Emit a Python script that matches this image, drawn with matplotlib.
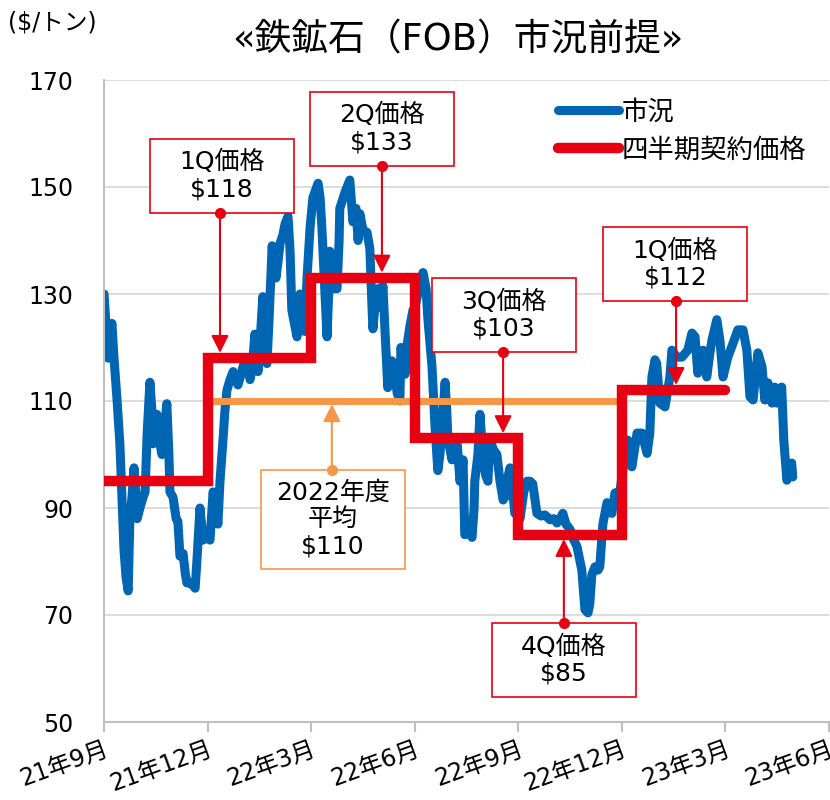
import matplotlib
matplotlib.use("Agg")
import matplotlib.pyplot as plt
from matplotlib.patches import Rectangle

plt.rcParams['font.family'] = ['DejaVu Sans', 'Noto Sans CJK JP']

# Market price (months since 2021-09, $/t)
month_pos = [
    0.00, 0.06, 0.12, 0.17, 0.23, 0.29, 0.38, 0.46, 0.52, 0.58, 0.64, 0.70, 0.75, 0.81, 0.87, 0.93, 0.96,
    1.04, 1.13, 1.19, 1.25, 1.33, 1.39, 1.42, 1.48, 1.53, 1.59, 1.68, 1.77, 1.82, 1.88, 1.91,
    2.00, 2.09, 2.14, 2.20, 2.29, 2.35, 2.40, 2.49, 2.58, 2.64, 2.69, 2.78, 2.84, 2.87, 2.95,
    3.07, 3.13, 3.16, 3.21, 3.30, 3.36, 3.45, 3.50, 3.56, 3.65, 3.74, 3.82, 3.88, 3.97,
    4.05, 4.17, 4.23, 4.29, 4.37, 4.46, 4.52, 4.60, 4.66, 4.72, 4.78, 4.87, 4.92, 4.98,
    5.04, 5.10, 5.18, 5.24, 5.33, 5.39, 5.44, 5.53, 5.59, 5.68, 5.76, 5.82, 5.88, 5.97,
    6.05, 6.20, 6.26, 6.31, 6.40, 6.46, 6.52, 6.54, 6.63, 6.75, 6.81, 6.83, 6.98,
    7.12, 7.21, 7.30, 7.36, 7.41, 7.50, 7.62, 7.70, 7.76, 7.79, 7.88, 7.94, 7.99,
    8.08, 8.14, 8.22, 8.28, 8.34, 8.43, 8.49, 8.57, 8.60, 8.66, 8.72, 8.77, 8.86, 8.95,
    9.01, 9.09, 9.24, 9.33, 9.38, 9.50, 9.59, 9.67, 9.73, 9.79, 9.88, 9.93, 9.96,
    10.02, 10.08, 10.17, 10.22, 10.31, 10.37, 10.40, 10.45, 10.54, 10.66, 10.72, 10.74, 10.83, 10.89, 10.95, 10.98,
    11.06, 11.12, 11.18, 11.27, 11.38, 11.47, 11.56, 11.61, 11.67, 11.76, 11.84, 11.90, 11.96,
    12.05, 12.16, 12.25, 12.34, 12.42, 12.54, 12.66, 12.77, 12.92,
    13.03, 13.12, 13.21, 13.29, 13.38, 13.50, 13.61, 13.70, 13.79, 13.84, 13.93,
    14.02, 14.07, 14.13, 14.22, 14.31, 14.36, 14.45, 14.57, 14.65, 14.71, 14.80, 14.89, 14.94,
    15.09, 15.17, 15.29, 15.44, 15.58, 15.73, 15.81, 15.87, 15.96,
    16.01, 16.10, 16.25, 16.33, 16.39, 16.45, 16.59, 16.74, 16.91,
    17.03, 17.12, 17.20, 17.35, 17.46, 17.55, 17.61, 17.75, 17.84, 17.93,
    18.07, 18.22, 18.36, 18.51, 18.62, 18.71, 18.80, 18.94,
    19.06, 19.14, 19.23, 19.35, 19.43, 19.49, 19.63, 19.69, 19.78, 19.87, 19.92, 19.95,
]
market_price = [
    130, 124, 118, 122, 124.5, 118, 110, 102, 92, 82, 77, 74.5, 88, 92, 97.5, 92, 88,
    90, 92, 93, 104, 113.5, 108, 102, 106, 107.5, 103, 100, 106, 109.5, 100, 93,
    92, 88, 87.5, 81, 81.5, 78, 76, 76, 75.5, 75, 80, 90, 86, 84, 85,
    84, 90, 93, 91, 87, 95, 103, 108, 112, 114, 115.5, 114, 113, 115,
    117, 118, 114, 116, 122.5, 115.5, 121, 129.5, 122, 117, 125, 139, 136, 133,
    136, 139.5, 141, 143, 144.5, 138, 127, 124, 122, 130, 128, 123, 133, 142.5,
    148, 150.7, 148, 142.5, 130, 122, 132, 138, 131, 131, 140, 146, 149,
    151.3, 143.5, 146, 140, 145, 142, 141.5, 138.5, 128, 123.5, 130, 131, 127.5,
    131.5, 123, 112.5, 115, 117.5, 115, 111.5, 110, 120, 118, 115, 120, 124, 127,
    127.5, 130, 134, 131, 125.5, 116.5, 105, 97, 100, 105, 113.5, 108, 103,
    101, 99, 101, 103, 95, 97, 99, 85, 86, 84.5, 90, 95, 100, 107.5, 102, 99,
    96, 95, 103, 101, 100, 95, 91.5, 92, 95, 97.5, 93, 89, 90,
    88, 93, 95, 95, 94.5, 89, 88.5, 88.7, 87.8,
    88, 87.2, 88, 89, 87, 86, 84, 82.8, 80, 78.4, 71,
    70.4, 72, 77.5, 79, 78.4, 79, 87, 91, 90, 89, 92.8, 93, 92.8,
    100, 102.7, 97.7, 104, 104, 100.2, 104, 114.5, 117.7,
    117, 109.6, 108.9, 112, 114.5, 119.5, 118.2, 118.2, 119.5,
    122.7, 122, 115.2, 119.5, 114.5, 119, 121.4, 125.2, 121.4, 114.5,
    118.2, 120.8, 123.3, 123.3, 119.5, 110.8, 110.2, 119,
    116.4, 110.2, 113.4, 109.6, 112.6, 109.6, 112.6, 102.7, 95.2, 97.5, 98.4, 95.8,
]

# Quarterly contract prices
quarter_edges = [0, 3, 6, 9, 12, 15, 18]
quarter_price = [95, 118, 133, 103, 85, 112]

# FY2022 average
avg_price = 110
avg_start, avg_end = 3, 15

x_ticks = [0, 3, 6, 9, 12, 15, 18, 21]
x_labels = ['21年9月', '21年12月', '22年3月', '22年6月', '22年9月', '22年12月', '23年3月', '23年6月']
y_ticks = [50, 70, 90, 110, 130, 150, 170]

BLUE = '#0066B3'
RED = '#E60012'
ORANGE = '#F79646'

fig = plt.figure(figsize=(8.3, 8.0), dpi=100)
ax = fig.add_axes([0.1253, 0.0975, 0.8735, 0.8025])

ax.plot(month_pos, market_price, color=BLUE, lw=6.5, solid_capstyle='round',
        solid_joinstyle='round', zorder=2, label='市況')
ax.hlines(avg_price, avg_start, avg_end, color=ORANGE, lw=5, zorder=3)
step_y = quarter_price + [quarter_price[-1]]
ax.step(quarter_edges, step_y, where='post', color=RED, lw=7.5, solid_capstyle='round',
        solid_joinstyle='miter', zorder=4, label='四半期契約価格')

ax.set_xlim(0, 21)
ax.set_ylim(50, 170)
ax.set_yticks(y_ticks)
ax.set_xticks(x_ticks)
ax.set_xticklabels(x_labels, rotation=20, ha='right', va='top', rotation_mode='anchor', fontsize=17)
ax.tick_params(axis='y', length=0, labelsize=17, pad=22)
ax.tick_params(axis='x', length=7, width=1.5, color='#BFBFBF', pad=4)
ax.yaxis.grid(True, color='#D9D9D9', lw=1.3)
ax.set_axisbelow(True)
for s in ['top', 'right']:
    ax.spines[s].set_visible(False)
for s in ['left', 'bottom']:
    ax.spines[s].set_color('#BFBFBF')
    ax.spines[s].set_linewidth(1.5)

# annotation boxes: (text, box center x, box center y, box h, arrow x, arrow tip y, color)
box_w = 4.17
notes = [
    ('1Q価格\n$118', 3.42, 152.1, 13.8, 3.36, 119.0, RED),
    ('2Q価格\n$133', 8.05, 160.9, 13.8, 8.05, 134.0, RED),
    ('3Q価格\n$103', 11.58, 126.0, 13.8, 11.56, 104.0, RED),
    ('4Q価格\n$85', 13.32, 61.6, 13.8, 13.32, 84.2, RED),
    ('1Q価格\n$112', 16.55, 135.6, 13.8, 16.57, 113.0, RED),
    ('2022年度\n平均\n$110', 6.63, 87.9, 18.5, 6.60, 109.4, ORANGE),
]
for text, cx, cy, h, ax_x, tip_y, col in notes:
    ax.add_patch(Rectangle((cx - box_w / 2, cy - h / 2), box_w, h, facecolor='white',
                           edgecolor=col, lw=1.2, zorder=6))
    ax.text(cx, cy, text, ha='center', va='center', fontsize=18, linespacing=1.15, zorder=7)
    start_y = cy - h / 2 if tip_y < cy else cy + h / 2
    ax.annotate('', xy=(ax_x, tip_y), xytext=(ax_x, start_y),
                arrowprops=dict(arrowstyle='-|>,head_length=0.7,head_width=0.35', color=col,
                                lw=1.5, mutation_scale=15, shrinkA=0, shrinkB=0), zorder=8)
    ax.plot(ax_x, start_y, 'o', color=col, ms=7, zorder=9, clip_on=False)

ax.legend(loc='upper left', bbox_to_anchor=(0.608, 0.99), frameon=False, fontsize=19,
          handlelength=2.3, handletextpad=0.1, labelspacing=0.45, borderpad=0)

fig.text(0.552, 0.95, '«鉄鉱石（FOB）市況前提»', ha='center', va='center', fontsize=26.5)
fig.text(0.010, 0.972, '($/トン)', ha='left', va='center', fontsize=17)

fig.savefig('out.png', dpi=100)
